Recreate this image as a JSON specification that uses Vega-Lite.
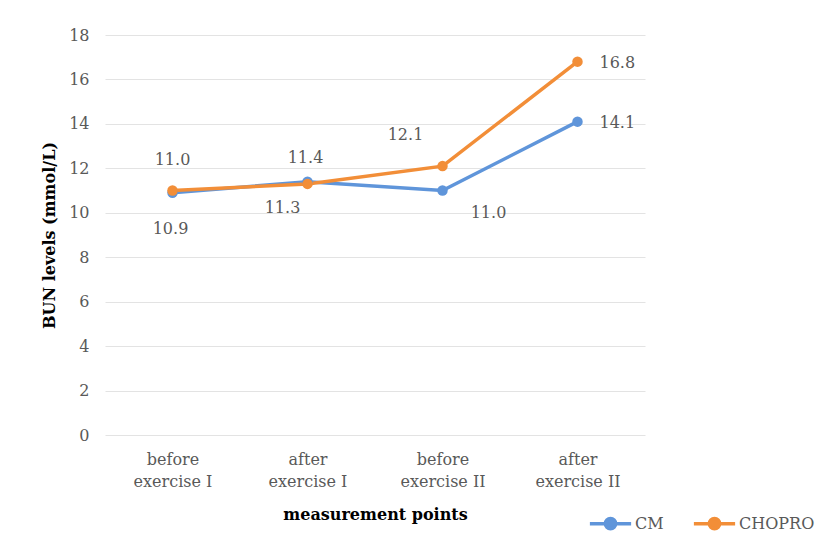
{
  "$schema": "https://vega.github.io/schema/vega-lite/v6.json",
  "width": 540,
  "height": 400,
  "autosize": {"type": "none"},
  "padding": {"left": 105, "top": 35, "right": 181, "bottom": 107},
  "background": "white",
  "config": {
    "font": "DejaVu Serif",
    "view": {"stroke": null},
    "axis": {"labelFont": "DejaVu Serif", "titleFont": "DejaVu Serif", "labelColor": "#595959", "titleColor": "#000000"}
  },
  "data": {
    "values": [
      {"cat": "before exercise I", "series": "CM", "value": 10.9},
      {"cat": "after exercise I", "series": "CM", "value": 11.4},
      {"cat": "before exercise II", "series": "CM", "value": 11.0},
      {"cat": "after exercise II", "series": "CM", "value": 14.1},
      {"cat": "before exercise I", "series": "CHOPRO", "value": 11.0},
      {"cat": "after exercise I", "series": "CHOPRO", "value": 11.3},
      {"cat": "before exercise II", "series": "CHOPRO", "value": 12.1},
      {"cat": "after exercise II", "series": "CHOPRO", "value": 16.8}
    ]
  },
  "encoding": {
    "x": {
      "field": "cat", "type": "nominal",
      "sort": ["before exercise I", "after exercise I", "before exercise II", "after exercise II"],
      "scale": {"type": "point", "padding": 0.5},
      "axis": {
        "title": "measurement points", "titleFontSize": 16, "titleFontWeight": "bold", "titlePadding": 17,
        "labelAngle": 0, "labelFontSize": 16, "labelLineHeight": 22.5, "labelPadding": 16,
        "labelExpr": "split(replace(datum.label, ' ', '|'), '|')",
        "domain": false, "ticks": false, "grid": false
      }
    },
    "y": {
      "field": "value", "type": "quantitative",
      "scale": {"domain": [0, 18], "nice": false},
      "axis": {
        "title": "BUN levels (mmol/L)", "titleFontSize": 16, "titleFontWeight": "bold", "titlePadding": 11,
        "values": [0, 2, 4, 6, 8, 10, 12, 14, 16, 18],
        "labelFontSize": 16, "labelPadding": 16,
        "domain": false, "ticks": false, "grid": true, "gridColor": "#e3e3e3", "gridWidth": 1.2
      }
    }
  },
  "layer": [
    {
      "mark": {"type": "line", "strokeWidth": 3.5, "point": {"filled": true, "size": 110, "opacity": 1}},
      "encoding": {
        "color": {
          "field": "series", "type": "nominal",
          "scale": {"domain": ["CM", "CHOPRO"], "range": ["#5F95DA", "#F28E38"]},
          "legend": {
            "title": null, "orient": "none", "direction": "horizontal",
            "legendX": 483, "legendY": 466,
            "symbolType": "M-1,0H1M-0.25,0A0.25,0.25,0,1,1,0.25,0A0.25,0.25,0,1,1,-0.25,0Z",
            "symbolSize": 1700, "symbolStrokeWidth": 3.5,
            "labelFont": "DejaVu Serif", "labelFontSize": 16, "labelColor": "#595959",
            "labelOffset": 2, "columnPadding": 22,
            "encode": {"symbols": {"update": {"fill": {"scale": "color", "field": "value"}, "opacity": {"value": 1}}}}
          }
        }
      }
    },
    {
      "transform": [{"filter": "datum.series == 'CM' && datum.cat == 'before exercise I'"}],
      "mark": {"type": "text", "fontSize": 16, "color": "#595959", "dy": 36, "dx": -2},
      "encoding": {"text": {"field": "value", "format": ".1f"}}
    },
    {
      "transform": [{"filter": "datum.series == 'CHOPRO' && datum.cat == 'before exercise I'"}],
      "mark": {"type": "text", "fontSize": 16, "color": "#595959", "dy": -31, "dx": 0},
      "encoding": {"text": {"field": "value", "format": ".1f"}}
    },
    {
      "transform": [{"filter": "datum.series == 'CM' && datum.cat == 'after exercise I'"}],
      "mark": {"type": "text", "fontSize": 16, "color": "#595959", "dy": -24, "dx": -2},
      "encoding": {"text": {"field": "value", "format": ".1f"}}
    },
    {
      "transform": [{"filter": "datum.series == 'CHOPRO' && datum.cat == 'after exercise I'"}],
      "mark": {"type": "text", "fontSize": 16, "color": "#595959", "dy": 24, "dx": -25},
      "encoding": {"text": {"field": "value", "format": ".1f"}}
    },
    {
      "transform": [{"filter": "datum.series == 'CHOPRO' && datum.cat == 'before exercise II'"}],
      "mark": {"type": "text", "fontSize": 16, "color": "#595959", "dy": -31, "dx": -37},
      "encoding": {"text": {"field": "value", "format": ".1f"}}
    },
    {
      "transform": [{"filter": "datum.series == 'CM' && datum.cat == 'before exercise II'"}],
      "mark": {"type": "text", "fontSize": 16, "color": "#595959", "dy": 22, "dx": 46},
      "encoding": {"text": {"field": "value", "format": ".1f"}}
    },
    {
      "transform": [{"filter": "datum.cat == 'after exercise II'"}],
      "mark": {"type": "text", "fontSize": 16, "color": "#595959", "align": "left", "dy": 1, "dx": 22},
      "encoding": {"text": {"field": "value", "format": ".1f"}}
    }
  ]
}
